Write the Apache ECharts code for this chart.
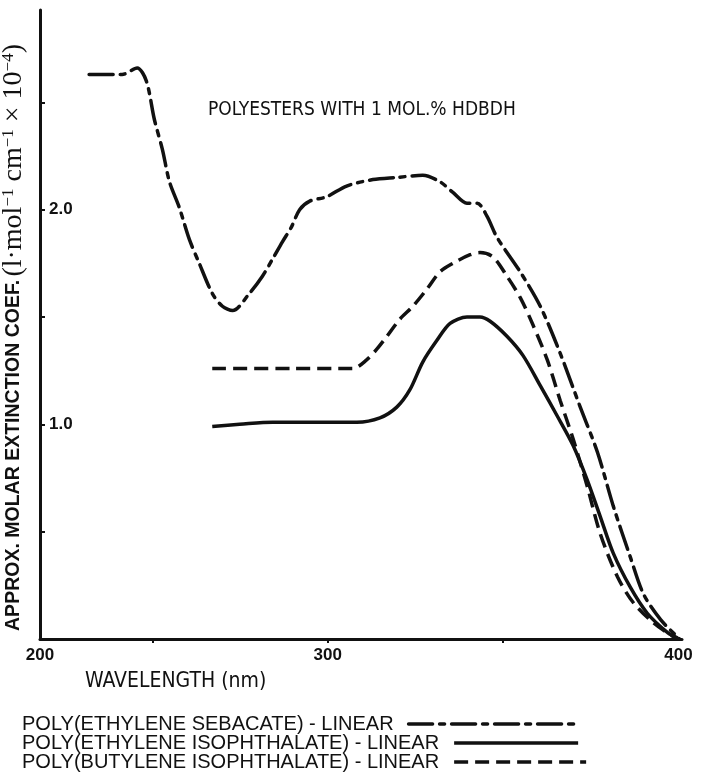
<!DOCTYPE html>
<html lang="en">
<head>
<meta charset="UTF-8">
<title>Polyesters with 1 mol.% HDBDH</title>
<script src="https://cdn.jsdelivr.net/npm/echarts@6/dist/echarts.min.js"></script>
<style>
    html, body { margin: 0; padding: 0; background: #fff; }
    #main { width: 702px; height: 782px; }
</style>
</head>
<body>
<div id="main"></div>
<script>
// series names (legend order)
var names = [
    'POLY(ETHYLENE SEBACATE) - LINEAR',
    'POLY(ETHYLENE ISOPHTHALATE) - LINEAR',
    'POLY(BUTYLENE ISOPHTHALATE) - LINEAR'
];

// [wavelength nm, coefficient x10^-4]
var pesData = [
    [232, 2.63], [241.4, 2.63], [245.7, 2.66], [248.3, 2.60], [250.6, 2.42], [252.9, 2.28],
    [254.9, 2.13], [257.7, 2.01], [260.6, 1.86], [263.4, 1.75], [267.1, 1.61], [270, 1.55],
    [272.9, 1.53], [277.7, 1.61], [281.4, 1.69], [284.3, 1.77], [287.1, 1.85], [289.7, 1.92],
    [292, 2.0], [294.9, 2.04], [299.7, 2.06], [305.4, 2.11], [312.9, 2.14], [319.7, 2.15],
    [327.1, 2.16], [332, 2.13], [335.7, 2.08], [339.7, 2.03], [342.6, 2.03], [345.4, 1.97],
    [348.3, 1.87], [354.9, 1.71], [360.6, 1.55], [366.3, 1.33], [372, 1.08], [376.9, 0.87],
    [381.4, 0.62], [386.3, 0.38], [390, 0.21], [394.9, 0.09], [399.7, 0.01]
];
var peiData = [
    [267.1, 0.99], [274.9, 1.0], [284.3, 1.01], [298.6, 1.01], [308.3, 1.01], [314.9, 1.03],
    [319.7, 1.08], [323.4, 1.16], [327.1, 1.29], [331.1, 1.39], [334.9, 1.47], [339.7, 1.50],
    [343.4, 1.50], [346.3, 1.48], [351.1, 1.41], [355.7, 1.32], [360.6, 1.18], [365.4, 1.04],
    [370, 0.90], [374, 0.74], [377.7, 0.57], [381.4, 0.40], [386.3, 0.24], [391.1, 0.12],
    [396.9, 0.03], [399.7, 0.005]
];
var pbiData = [
    [267.1, 1.26], [290, 1.26], [307.1, 1.26], [311.1, 1.30], [314, 1.35], [316.9, 1.41],
    [320.6, 1.49], [324.3, 1.55], [328.3, 1.63], [332, 1.71], [335.7, 1.75], [340.6, 1.79],
    [343.4, 1.80], [347.1, 1.78], [351.1, 1.69], [354.9, 1.59], [358.6, 1.46], [362.6, 1.30],
    [366.3, 1.11], [370, 0.93], [374, 0.71], [377.7, 0.49], [382.6, 0.29], [387.1, 0.17],
    [392.9, 0.075], [398.6, 0.01], [400.5, 0]
];

// axis ticks / labels (x axis origin is drawn broken and labelled 200)
var xMin = 218, xMax = 401;
var xTickValues = [250, 300, 350];
var xLabelValues = [218, 300, 400];
var xLabelTexts = ['200', '300', '400'];
var yTickValues = [0.5, 1, 1.5, 2, 2.5];
var yLabelValues = [1, 2];

var ink = '#111';
var narrow = '"Liberation Sans Narrow", "DejaVu Sans Condensed", "Liberation Sans", sans-serif';
var sans = '"Liberation Sans", Arial, sans-serif';
var serif = '"Liberation Serif", "Times New Roman", serif';

var myChart = echarts.init(document.getElementById('main'));

function legendRow(name, top, width) {
    return {
        data: [name],
        left: 22,
        top: top,
        padding: 0,
        align: 'right',
        itemWidth: width,
        itemHeight: 12,
        selectedMode: false,
        itemStyle: { opacity: 0 },
        lineStyle: { width: 3.5 },
        textStyle: { color: ink, fontFamily: sans, fontSize: 20, padding: [0, 10, 0, 0] }
    };
}

var option = {
    backgroundColor: '#fff',
    animation: false,
    color: [ink, ink, ink],
    title: [
        {
            text: 'POLYESTERS WITH 1 MOL.% HDBDH',
            left: 203, top: 96,
            textStyle: { color: ink, fontFamily: narrow, fontSize: 19, fontWeight: 'normal' }
        },
        {
            text: 'WAVELENGTH (nm)',
            left: 80, top: 666,
            textStyle: { color: ink, fontFamily: narrow, fontSize: 21, fontWeight: 'normal' }
        }
    ],
    legend: [
        legendRow(names[0], 714, 172),
        legendRow(names[1], 733, 124),
        legendRow(names[2], 752, 132)
    ],
    grid: { left: 40, right: 20, top: 10, bottom: 143, outerBoundsMode: 'none' },
    xAxis: {
        type: 'value',
        min: xMin,
        max: xMax,
        splitLine: { show: false },
        axisLine: { lineStyle: { color: ink, width: 3 } },
        axisTick: { show: true, inside: false, length: 4, customValues: xTickValues,
            lineStyle: { color: ink, width: 2 } },
        axisLabel: {
            customValues: xLabelValues,
            color: ink, fontFamily: sans, fontSize: 17, fontWeight: 'bold',
            margin: 8,
            formatter: function (v) { return xLabelTexts[xLabelValues.indexOf(v)]; }
        }
    },
    yAxis: {
        type: 'value',
        min: 0,
        max: 2.93,
        splitLine: { show: false },
        axisLine: { show: true, lineStyle: { color: ink, width: 3 } },
        axisTick: { show: true, inside: true, length: 5, customValues: yTickValues,
            lineStyle: { color: ink, width: 2 } },
        axisLabel: {
            inside: true,
            customValues: yLabelValues,
            margin: 9,
            color: ink, fontFamily: sans, fontSize: 17, fontWeight: 'bold',
            formatter: function (v) { return v.toFixed(1); }
        },
        name: '{a|APPROX. MOLAR EXTINCTION COEF.} {b|(l·mol}{s|−1}{b| cm}{s|−1}{b| × 10}{s|−4}{b|)}',
        nameLocation: 'middle',
        nameRotate: 90,
        nameGap: 12,
        nameTextStyle: {
            padding: [0, 0, 0, -26],
            rich: {
                a: { color: ink, fontFamily: sans, fontSize: 19.5, fontWeight: 'bold', lineHeight: 28 },
                b: { color: ink, fontFamily: serif, fontSize: 28, lineHeight: 28 },
                s: { color: ink, fontFamily: serif, fontSize: 17, lineHeight: 28, verticalAlign: 'top' }
            }
        }
    },
    series: [
        {
            name: names[0], type: 'line', data: pesData, symbol: 'none', smooth: 0.3,
            lineStyle: { color: ink, width: 3.5, type: [24, 7, 5, 7], cap: 'round' }
        },
        {
            name: names[1], type: 'line', data: peiData, symbol: 'none', smooth: 0.3,
            lineStyle: { color: ink, width: 3.5, type: 'solid' }
        },
        {
            name: names[2], type: 'line', data: pbiData, symbol: 'none', smooth: 0.3,
            lineStyle: { color: ink, width: 3.5, type: [14, 7] }
        }
    ]
};

myChart.setOption(option);
</script>
</body>
</html>
